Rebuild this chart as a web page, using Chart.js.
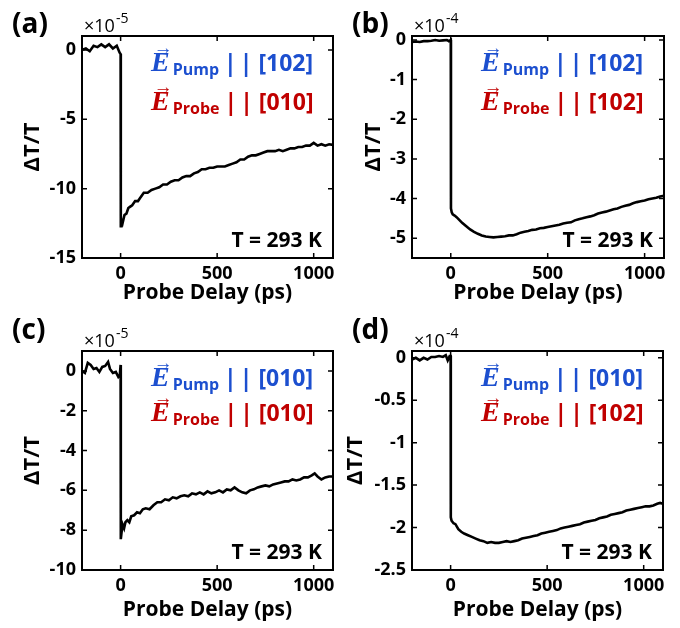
<!DOCTYPE html>
<html>
<head>
<meta charset="utf-8">
<script src="https://cdn.jsdelivr.net/npm/chart.js@4.4.0/dist/chart.umd.min.js"></script>
<style>
  body { margin: 0; background: #fff; }
  #wrap { position: relative; width: 680px; height: 628px; }
  canvas { position: absolute; }
</style>
</head>
<body>
<div id="wrap">
  <canvas id="pa" width="340" height="314" style="left:0;top:0"></canvas>
  <canvas id="pb" width="340" height="314" style="left:340px;top:0"></canvas>
  <canvas id="pc" width="340" height="314" style="left:0;top:314px"></canvas>
  <canvas id="pd" width="340" height="314" style="left:340px;top:314px"></canvas>
</div>
<script>
(() => {
  'use strict'

  // ---- data (delay in ps, dT/T in units of the panel exponent) ----
  const delayA = [-200,-180,-160,-140,-120,-100,-80,-60,-40,-20,-5,0,1,5,10,20,30,40,50,60,75,90,100,120,140,160,180,200,220,240,260,280,300,320,340,360,380,400,420,440,460,480,500,520,540,560,580,600,620,640,660,680,700,720,740,760,780,800,820,840,860,880,900,920,940,960,980,1000,1020,1040,1060,1080,1100];
  const signalA = [0.0,0.1,-0.1,0.3,0.2,0.4,0.2,0.4,0.1,0.3,-0.2,-0.3,-12.8,-12.3,-12.5,-11.9,-11.8,-11.4,-11.3,-11.2,-10.9,-10.9,-10.7,-10.3,-10.3,-10.1,-10.0,-9.9,-9.7,-9.7,-9.5,-9.4,-9.4,-9.2,-9.1,-9.1,-8.9,-8.8,-8.6,-8.6,-8.5,-8.5,-8.4,-8.4,-8.4,-8.3,-8.2,-8.1,-7.9,-7.9,-7.7,-7.6,-7.6,-7.5,-7.4,-7.3,-7.3,-7.3,-7.2,-7.3,-7.2,-7.1,-7.1,-7.0,-7.0,-6.9,-6.9,-6.7,-6.9,-6.8,-6.9,-6.8,-6.85];

  const delayB = [-200,-180,-160,-140,-120,-100,-80,-60,-40,-20,-10,0,1,5,10,20,30,40,50,60,80,100,120,140,160,180,200,220,240,260,280,300,320,340,360,380,400,420,440,460,480,500,520,540,560,580,600,620,640,660,680,700,720,740,760,780,800,820,840,860,880,900,920,940,960,980,1000,1020,1040,1060,1080,1100];
  const signalB = [-0.05,-0.04,-0.05,-0.03,-0.03,-0.02,0.0,-0.02,-0.01,0.0,-0.03,0.0,-4.25,-4.35,-4.4,-4.43,-4.47,-4.52,-4.57,-4.62,-4.70,-4.78,-4.84,-4.89,-4.93,-4.96,-4.97,-4.98,-4.97,-4.96,-4.95,-4.93,-4.93,-4.90,-4.86,-4.84,-4.82,-4.79,-4.78,-4.75,-4.74,-4.72,-4.70,-4.68,-4.66,-4.63,-4.61,-4.60,-4.55,-4.52,-4.50,-4.47,-4.45,-4.42,-4.38,-4.35,-4.33,-4.30,-4.27,-4.25,-4.21,-4.18,-4.16,-4.12,-4.09,-4.07,-4.05,-4.02,-4.00,-3.98,-3.95,-3.93];

  const delayC = [-200,-185,-170,-155,-140,-125,-110,-95,-80,-65,-55,-40,-25,-12,-4,0,1,5,10,18,25,35,45,55,70,85,100,115,130,150,170,190,210,230,250,270,290,310,330,350,370,390,410,430,450,470,490,510,530,550,570,590,610,630,650,670,690,710,730,750,770,790,810,830,850,870,890,910,930,950,970,990,1005,1020,1040,1060,1080,1100];
  const signalC = [0.0,-0.1,0.4,0.3,0.1,0.15,-0.05,0.2,0.25,0.45,0.1,-0.1,-0.05,-0.3,-0.2,0.3,-8.45,-8.1,-7.7,-7.9,-7.6,-7.5,-7.6,-7.3,-7.25,-7.1,-7.15,-6.95,-6.9,-6.95,-6.75,-6.6,-6.6,-6.45,-6.5,-6.35,-6.4,-6.3,-6.25,-6.3,-6.15,-6.2,-6.1,-6.2,-6.05,-6.15,-6.1,-6.0,-6.1,-5.95,-6.0,-5.85,-6.0,-6.1,-6.15,-6.0,-5.95,-5.85,-5.8,-5.75,-5.8,-5.7,-5.65,-5.6,-5.55,-5.55,-5.45,-5.5,-5.45,-5.35,-5.35,-5.25,-5.15,-5.3,-5.45,-5.35,-5.3,-5.3];

  const delayD = [-200,-180,-160,-140,-120,-100,-80,-60,-40,-25,-15,-5,0,1,5,15,25,40,55,70,90,110,130,150,170,190,210,230,250,270,290,310,330,350,370,390,410,430,450,470,490,510,530,550,570,590,610,630,650,670,690,710,730,750,770,790,810,830,850,870,890,910,930,950,970,990,1010,1030,1050,1070,1085,1100];
  const signalD = [-0.02,0.0,-0.03,0.0,-0.02,0.01,0.01,0.02,0.01,0.03,-0.03,0.02,0.02,-1.88,-1.92,-1.95,-1.96,-2.02,-2.05,-2.07,-2.09,-2.11,-2.13,-2.15,-2.16,-2.18,-2.17,-2.18,-2.18,-2.17,-2.16,-2.17,-2.16,-2.15,-2.13,-2.12,-2.11,-2.10,-2.09,-2.07,-2.06,-2.05,-2.04,-2.03,-2.01,-2.00,-1.99,-1.98,-1.97,-1.96,-1.94,-1.93,-1.92,-1.91,-1.89,-1.88,-1.87,-1.85,-1.84,-1.83,-1.82,-1.80,-1.79,-1.78,-1.77,-1.76,-1.75,-1.75,-1.74,-1.72,-1.71,-1.72];

  // ---- tick labels and axis ranges ----
  const xTicks = [0, 500, 1000];
  const yTicksA = [0, -5, -10, -15];
  const yTicksB = [0, -1, -2, -3, -4, -5];
  const yTicksC = [0, -2, -4, -6, -8, -10];
  const yTicksD = [0, -0.5, -1, -1.5, -2, -2.5];

  // ---- texts ----
  const panelLabels = ['(a)', '(b)', '(c)', '(d)'];
  const exponents = ['-5', '-4', '-5', '-4'];
  const pumpDirs = ['[102]', '[102]', '[010]', '[010]'];
  const probeDirs = ['[010]', '[102]', '[010]', '[102]'];
  const tempText = 'T = 293 K';

  const SANS = '"Open Sans", sans-serif';
  const BLUE = '#1c4fcf';
  const RED = '#c00000';

  // draws frame, inward ticks and the in-panel texts
  const decoPlugin = {
    id: 'deco',
    afterDraw(chart, args, o) {
      const c = chart.ctx;
      const a = chart.chartArea;
      const xs = chart.scales.x, ys = chart.scales.y;
      c.save();
      c.strokeStyle = '#000';
      c.lineWidth = 2;
      c.strokeRect(a.left, a.top, a.right - a.left, a.bottom - a.top);
      c.lineWidth = 1.5;
      c.beginPath();
      xs.ticks.forEach(t => {
        const p = xs.getPixelForValue(t.value);
        c.moveTo(p, a.bottom); c.lineTo(p, a.bottom - 5);
        c.moveTo(p, a.top); c.lineTo(p, a.top + 5);
      });
      ys.ticks.forEach(t => {
        const p = ys.getPixelForValue(t.value);
        c.moveTo(a.left, p); c.lineTo(a.left + 5, p);
        c.moveTo(a.right, p); c.lineTo(a.right - 5, p);
      });
      c.stroke();

      c.fillStyle = '#000';
      c.textBaseline = 'alphabetic';
      // panel label
      c.font = 'bold 28px ' + SANS;
      c.textAlign = 'left';
      c.fillText(o.label, 12, o.labelY);
      // x10^n
      c.font = '18px ' + SANS;
      c.fillText('\u00d710', a.left + 2, a.top - 4);
      const w10 = c.measureText('\u00d710').width;
      c.font = '14px ' + SANS;
      c.fillText(o.exp, a.left + 2 + w10 + 1, a.top - 13);

      // polarisation legend
      const drawLine = (color, sub, dir, y) => {
        let x = a.left + 69;
        c.fillStyle = color;
        c.font = 'bold italic 28px "Liberation Serif", serif';
        c.fillText('E', x, y);
        const wE = c.measureText('E').width;
        c.font = '19px ' + SANS;
        c.textAlign = 'center';
        c.fillText('\u2192', x + wE / 2 + 3, y - 17);
        c.textAlign = 'left';
        x += wE + 3;
        c.font = 'bold 16px ' + SANS;
        c.fillText(sub, x, y + 4);
        x += c.measureText(sub).width + 5;
        c.font = 'bold 23px ' + SANS;
        c.letterSpacing = '3px';
        c.fillText('||', x, y);
        x += c.measureText('||').width + 3;
        c.letterSpacing = '0px';
        c.fillText(dir, x, y);
      };
      drawLine(BLUE, 'Pump', o.pump, a.top + 35);
      drawLine(RED, 'Probe', o.probe, a.top + o.line2);

      // temperature
      c.fillStyle = '#000';
      c.font = 'bold 21px ' + SANS;
      c.textAlign = 'right';
      c.fillText(tempText, a.right - 11, a.bottom - 11);
      c.restore();
    }
  };

  const makePanel = (id, xs, ys, yMin, yMax, yTicks, box, text) => {
    const points = xs.map((x, i) => ({ x: x, y: ys[i] }));
    return new Chart(document.getElementById(id), {
      type: 'line',
      data: {
        datasets: [{
          data: points,
          borderColor: '#000',
          borderWidth: 2.6,
          pointRadius: 0,
          tension: 0,
          fill: false
        }]
      },
      options: {
        responsive: false,
        animation: false,
        layout: { padding: { left: 0, right: box.right, top: box.top, bottom: 0 } },
        plugins: { legend: { display: false }, tooltip: { enabled: false }, deco: text },
        scales: {
          x: {
            type: 'linear', min: -200, max: 1100,
            afterBuildTicks: s => { s.ticks = xTicks.map(v => ({ value: v })); },
            afterFit: s => { s.height = box.xh; },
            grid: { display: false, drawTicks: false },
            border: { display: false },
            ticks: { color: '#000', padding: 5, maxRotation: 0, font: { family: SANS, size: 18, weight: 'bold' }, callback: v => String(v) },
            title: { display: true, text: 'Probe Delay (ps)', color: '#000', padding: { top: 0, bottom: box.tb }, font: { family: SANS, size: 21, weight: 'bold' } }
          },
          y: {
            min: yMin, max: yMax,
            afterBuildTicks: s => { s.ticks = yTicks.map(v => ({ value: v })); },
            afterFit: s => { s.width = box.yw; },
            grid: { display: false, drawTicks: false },
            border: { display: false },
            ticks: { color: '#000', padding: 6, font: { family: SANS, size: 18, weight: 'bold' }, callback: v => String(v) },
            title: { display: true, text: '\u0394T/T', color: '#000', padding: { top: box.yt, bottom: 0 }, font: { family: SANS, size: 22, weight: 'bold' } }
          }
        }
      },
      plugins: [decoPlugin]
    });
  };

  makePanel('pa', delayA, signalA, -15, 1, yTicksA,
    { right: 7, top: 36, xh: 56, yw: 82, tb: 8, yt: 20 },
    { label: panelLabels[0], labelY: 33, exp: exponents[0], pump: pumpDirs[0], probe: probeDirs[0], line2: 74 });
  makePanel('pb', delayB, signalB, -5.5, 0.1, yTicksB,
    { right: 16, top: 36, xh: 56, yw: 72, tb: 8, yt: 21 },
    { label: panelLabels[1], labelY: 33, exp: exponents[1], pump: pumpDirs[1], probe: probeDirs[1], line2: 74 });
  makePanel('pc', delayC, signalC, -10, 1, yTicksC,
    { right: 7, top: 37, xh: 58, yw: 82, tb: 5, yt: 20 },
    { label: panelLabels[2], labelY: 25, exp: exponents[2], pump: pumpDirs[2], probe: probeDirs[2], line2: 70 });
  makePanel('pd', delayD, signalD, -2.5, 0.08, yTicksD,
    { right: 17, top: 37, xh: 58, yw: 72, tb: 5, yt: 3 },
    { label: panelLabels[3], labelY: 25, exp: exponents[3], pump: pumpDirs[3], probe: probeDirs[3], line2: 70 });
})()
</script>
</body>
</html>
